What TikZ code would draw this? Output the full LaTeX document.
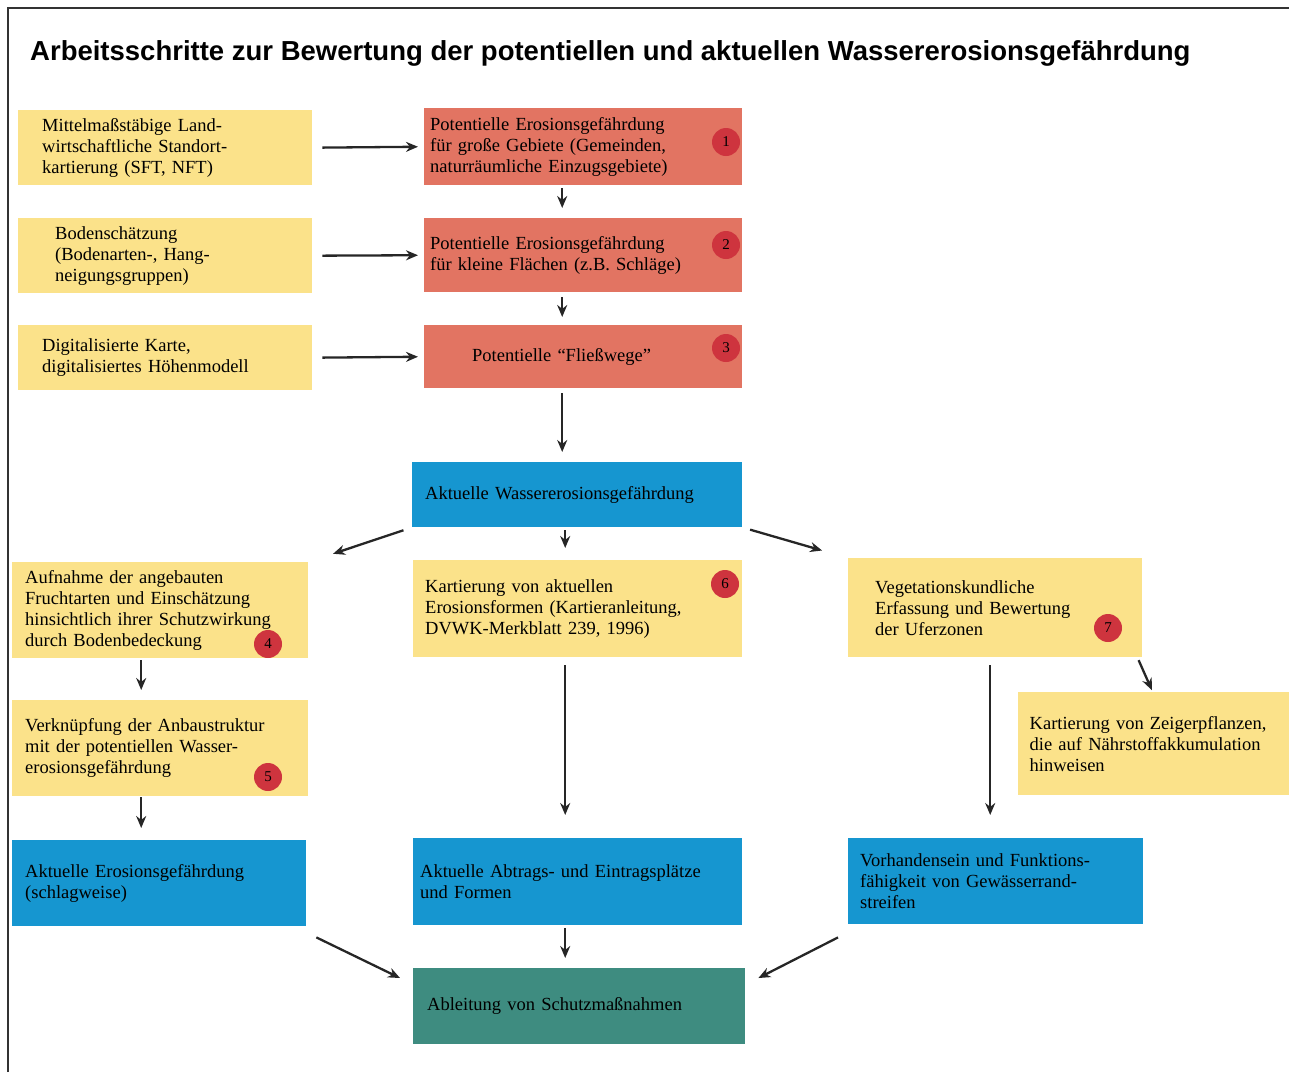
\documentclass[tikz,border=0pt]{standalone}
\usepackage{fontspec}
\setmainfont{Liberation Serif}
\newfontfamily\titlefont{Liberation Sans}
\usepackage{xcolor}
\usetikzlibrary{positioning,arrows.meta}
\definecolor{boxyellow}{RGB}{251,226,138}
\definecolor{boxred}{RGB}{226,116,98}
\definecolor{boxblue}{RGB}{22,150,208}
\definecolor{boxgreen}{RGB}{62,140,128}
\definecolor{badgered}{RGB}{206,52,62}
\tikzset{
    panel/.style={anchor=north west, align=left, inner ysep=0pt, font=\fontsize{18.5}{21}\selectfont},
    yellow box/.style={panel, fill=boxyellow},
    red box/.style={panel, fill=boxred},
    blue box/.style={panel, fill=boxblue},
    green box/.style={panel, fill=boxgreen},
    badge/.style={circle, fill=badgered, minimum size=28pt, inner sep=0pt, font=\fontsize{15}{15}\selectfont},
    flow/.style={-{Stealth[length=12pt,width=10pt]}, line width=2.3pt, draw=black!85}
}

\begin{document}
\begin{tikzpicture}[x=1pt, y=-1pt]
    \useasboundingbox (0,0) rectangle (1289,1072);
    \draw[line width=1.2pt, black!80] (8,1072) -- (8,8) -- (1289,8);

    \node[anchor=base west, inner sep=0pt, font=\titlefont\bfseries\fontsize{27.5}{30}\selectfont] (title) at (30,60)
        {Arbeitsschritte zur Bewertung der potentiellen und aktuellen Wassererosionsgefährdung};

    % input column
    \node[yellow box, minimum height=75pt, inner xsep=24pt, text width=246pt] (mmk) at (18,110)
        {Mittelmaßstäbige Land-\\wirtschaftliche Standort-\\kartierung (SFT, NFT)};
    \node[yellow box, minimum height=75pt, inner xsep=37pt, text width=220pt] (bodsch) at (18,218)
        {Bodenschätzung\\(Bodenarten-, Hang-\\neigungsgruppen)};
    \node[yellow box, minimum height=65pt, inner xsep=24pt, text width=246pt] (dgm) at (18,325)
        {Digitalisierte Karte,\\digitalisiertes Höhenmodell};

    % potential hazard
    \node[red box, minimum height=77pt, inner xsep=6pt, text width=306pt] (pot1) at (424,108)
        {Potentielle Erosionsgefährdung\\für große Gebiete (Gemeinden,\\naturräumliche Einzugsgebiete)};
    \node[red box, minimum height=74pt, inner xsep=6pt, text width=306pt] (pot2) at (424,218)
        {Potentielle Erosionsgefährdung\\für kleine Flächen (z.B. Schläge)};
    \node[red box, minimum height=63pt, inner xsep=48pt, text width=222pt] (pot3) at (424,325)
        {Potentielle ``Fließwege''};

    \node[blue box, minimum height=65pt, inner xsep=13pt, text width=304pt] (akt) at (412,462)
        {Aktuelle Wassererosionsgefährdung};

    % three branches
    \node[yellow box, minimum height=96pt, inner xsep=13pt, text width=270pt] (frucht) at (12,562)
        {Aufnahme der angebauten\\Fruchtarten und Einschätzung\\hinsichtlich ihrer Schutzwirkung\\durch Bodenbedeckung};
    \node[yellow box, minimum height=96pt, inner xsep=13pt, text width=270pt] (verkn) at (12,700)
        {Verknüpfung der Anbaustruktur\\mit der potentiellen Wasser-\\erosionsgefährdung};
    \node[yellow box, minimum height=97pt, inner xsep=12pt, text width=305pt] (formen) at (413,560)
        {Kartierung von aktuellen\\Erosionsformen (Kartieranleitung,\\DVWK-Merkblatt 239, 1996)};
    \node[yellow box, minimum height=99pt, inner xsep=27pt, text width=240pt] (veg) at (848,558)
        {Vegetationskundliche\\Erfassung und Bewertung\\der Uferzonen};
    \node[yellow box, minimum height=103pt, inner xsep=11.5pt, text width=248pt] (zeiger) at (1018,692)
        {Kartierung von Zeigerpflanzen,\\die auf Nährstoffakkumulation\\hinweisen};

    \node[blue box, minimum height=86pt, inner xsep=13pt, text width=268pt] (aktschlag) at (12,840)
        {Aktuelle Erosionsgefährdung\\(schlagweise)};
    \node[blue box, minimum height=87pt, inner xsep=7pt, text width=315pt] (abtrag) at (413,838)
        {Aktuelle Abtrags- und Eintragsplätze\\und Formen};
    \node[blue box, minimum height=86pt, inner xsep=12pt, text width=271pt] (rand) at (848,838)
        {Vorhandensein und Funktions-\\fähigkeit von Gewässerrand-\\streifen};

    \node[green box, minimum height=76pt, inner xsep=14pt, text width=304pt] (ableit) at (413,968)
        {Ableitung von Schutzmaßnahmen};

    % step numbers
    \node[badge] (n1) at (726,142) {1};
    \node[badge] (n2) at (726,245) {2};
    \node[badge] (n3) at (726,348) {3};
    \node[badge] (n4) at (268,644) {4};
    \node[badge] (n5) at (268,777) {5};
    \node[badge] (n6) at (725,584) {6};
    \node[badge] (n7) at (1108,628) {7};

    \draw[flow, shorten <=10pt, shorten >=6pt] (mmk.east) -- (pot1.west);
    \draw[flow, shorten <=10pt, shorten >=6pt] (bodsch.east) -- (pot2.west);
    \draw[flow, shorten <=10pt, shorten >=6pt] (dgm.east) -- (pot3.west);
    \draw[flow, shorten <=3pt, shorten >=10pt] ([xshift=-21pt]pot1.south) -- ([xshift=-21pt]pot2.north);
    \draw[flow, shorten <=5pt, shorten >=8pt] ([xshift=-21pt]pot2.south) -- ([xshift=-21pt]pot3.north);
    \draw[flow, shorten <=5pt, shorten >=10pt] ([xshift=-21pt]pot3.south) -- ([xshift=-15pt]akt.north);

    \draw[flow, shorten <=9pt, shorten >=26pt] (akt.south west) -- (frucht.north east);
    \draw[flow, shorten <=3pt, shorten >=12pt] ([xshift=-12pt]akt.south) -- ([xshift=-12.5pt]formen.north);
    \draw[flow, shorten <=8pt, shorten >=27pt] (akt.south east) -- (veg.north west);

    \draw[flow, shorten <=2pt, shorten >=10pt] ([xshift=-19pt]frucht.south) -- ([xshift=-19pt]verkn.north);
    \draw[flow, shorten <=1pt, shorten >=12pt] ([xshift=-19pt]verkn.south) -- ([xshift=-18pt]aktschlag.north);
    \draw[flow, shorten <=8pt, shorten >=23pt] ([xshift=-12.5pt]formen.south) -- ([xshift=-12.5pt]abtrag.north);
    \draw[flow, shorten <=8pt, shorten >=23pt] ([xshift=-5pt]veg.south) -- ([xshift=-5.5pt]rand.north);
    \draw[flow, shorten <=3pt, shorten >=2pt] ([xshift=-5pt]veg.south east) -- ([xshift=-1pt]zeiger.north);

    \draw[flow] ([xshift=10pt,yshift=-11pt]aktschlag.south east) -- ([xshift=-13pt,yshift=-10pt]ableit.north west);
    \draw[flow, shorten <=3pt, shorten >=10pt] ([xshift=-12.5pt]abtrag.south) -- ([xshift=-14pt]ableit.north);
    \draw[flow] ([xshift=-10pt,yshift=-13pt]rand.south west) -- ([xshift=13pt,yshift=-10pt]ableit.north east);
\end{tikzpicture}
\end{document}
